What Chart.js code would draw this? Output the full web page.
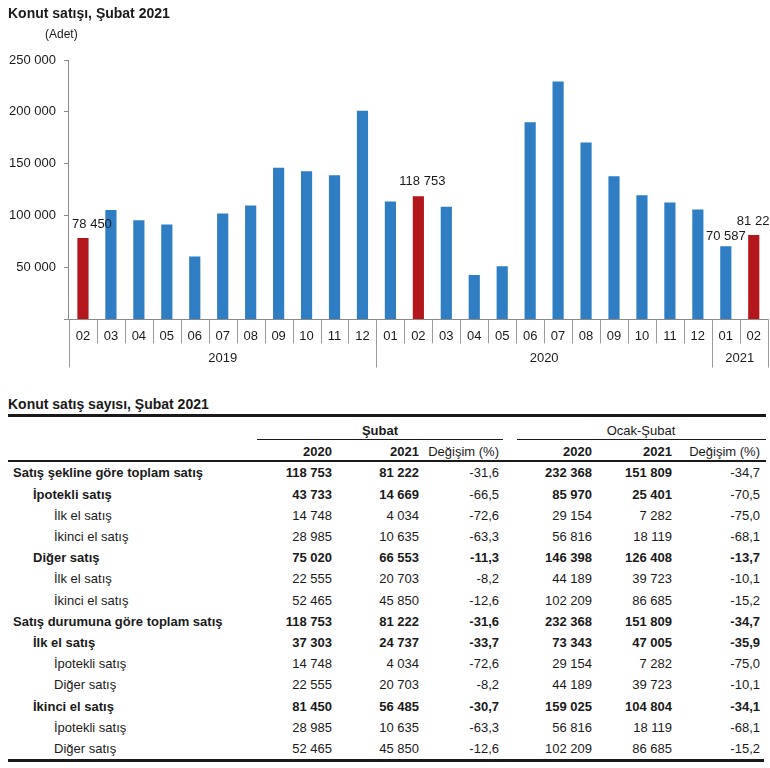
<!DOCTYPE html>
<html>
<head>
<meta charset="utf-8">
<script src="https://cdn.jsdelivr.net/npm/chart.js@4"></script>
<style>
  body { margin: 0; background: #fff; font-family: 'Liberation Sans', Arial, sans-serif; color: #1a1a1a; }
  #page { position: relative; width: 770px; height: 768px; overflow: hidden; }
  #chartBox { position: absolute; left: 0; top: 0; width: 770px; height: 385px; }
  .t { position: absolute; white-space: nowrap; }
  .rule { position: absolute; background: #1a1a1a; }
</style>
</head>
<body>
<div id="page">
  <div id="chartBox"><canvas id="salesChart"></canvas></div>
  <div class="t" style="left:8px; top:5px; font-size:14px; font-weight:bold;">Konut satışı, Şubat 2021</div>
  <div class="t" style="left:45px; top:27px; font-size:12px;">(Adet)</div>
  <div id="table"></div>
</div>
<script>
// chart data
const monthLabels = ['02', '03', '04', '05', '06', '07', '08', '09', '10', '11', '12',
    '01', '02', '03', '04', '05', '06', '07', '08', '09', '10', '11', '12',
    '01', '02'];
const sales = [78450, 105394, 95440, 91343, 60601, 101955, 109722, 146172, 142878, 138825, 201164,
    113615, 118753, 108670, 42783, 51308, 190012, 229357, 170521, 137899, 119594, 112551, 105972,
    70587, 81222];
const years = ['2019', '2020', '2021'];
const yearSpans = [11, 12, 2];
const labelledBars = [0, 12, 23, 24];
const yTicks = [0, 50000, 100000, 150000, 200000, 250000];

// table data
const tableTitle = 'Konut satış sayısı, Şubat 2021';
const groupHeaders = ['Şubat', 'Ocak-Şubat'];
const columnHeaders = ['2020', '2021', 'Değişim (%)', '2020', '2021', 'Değişim (%)'];
const rowLabels = ['Satış şekline göre toplam satış', 'İpotekli satış', 'İlk el satış', 'İkinci el satış',
    'Diğer satış', 'İlk el satış', 'İkinci el satış', 'Satış durumuna göre toplam satış', 'İlk el satış',
    'İpotekli satış', 'Diğer satış', 'İkinci el satış', 'İpotekli satış', 'Diğer satış'];
const rowLevels = [0, 1, 2, 2, 1, 2, 2, 0, 1, 2, 2, 1, 2, 2];
const feb2020 = [118753, 43733, 14748, 28985, 75020, 22555, 52465, 118753, 37303, 14748, 22555, 81450, 28985, 52465];
const feb2021 = [81222, 14669, 4034, 10635, 66553, 20703, 45850, 81222, 24737, 4034, 20703, 56485, 10635, 45850];
const febChange = [-31.6, -66.5, -72.6, -63.3, -11.3, -8.2, -12.6, -31.6, -33.7, -72.6, -8.2, -30.7, -63.3, -12.6];
const janFeb2020 = [232368, 85970, 29154, 56816, 146398, 44189, 102209, 232368, 73343, 29154, 44189, 159025, 56816, 102209];
const janFeb2021 = [151809, 25401, 7282, 18119, 126408, 39723, 86685, 151809, 47005, 7282, 39723, 104804, 18119, 86685];
const janFebChange = [-34.7, -70.5, -75.0, -68.1, -13.7, -10.1, -15.2, -34.7, -35.9, -75.0, -10.1, -34.1, -68.1, -15.2];

const FONT = "'Liberation Sans', Arial, sans-serif";
const BLUE = '#2f7ec3';
const RED = '#b3161b';

function fmtInt(n) {
    return String(n).replace(/\B(?=(\d{3})+(?!\d))/g, ' ');
}
function fmtPct(n) {
    return n.toFixed(1).replace('.', ',');
}

// value labels above selected bars
const valueLabels = {
    id: 'valueLabels',
    afterDatasetsDraw(chart) {
        const ctx = chart.ctx;
        const meta = chart.getDatasetMeta(0);
        const shift = { 0: [9, -14], 12: [4, -15], 23: [0, -10], 24: [3, -14] };
        ctx.save();
        ctx.font = '13px ' + FONT;
        ctx.fillStyle = '#1a1a1a';
        ctx.textAlign = 'center';
        ctx.textBaseline = 'middle';
        labelledBars.forEach(i => {
            const bar = meta.data[i];
            const [dx, dy] = shift[i];
            ctx.fillText(fmtInt(sales[i]), bar.x + dx, bar.y + dy);
        });
        ctx.restore();
    }
};

// month separators and year row under the x axis
const yearAxis = {
    id: 'yearAxis',
    afterDraw(chart) {
        const ctx = chart.ctx;
        const x = chart.scales.x;
        const bottom = chart.chartArea.bottom;
        const half = (x.getPixelForValue(1) - x.getPixelForValue(0)) / 2;
        const vline = (px, len) => {
            ctx.beginPath();
            ctx.moveTo(Math.round(px) + 0.5, bottom);
            ctx.lineTo(Math.round(px) + 0.5, bottom + len);
            ctx.stroke();
        };
        ctx.save();
        ctx.strokeStyle = '#9a9a9a';
        ctx.lineWidth = 1;
        monthLabels.forEach((m, i) => vline(x.getPixelForValue(i) + half, 24));
        ctx.font = '13px ' + FONT;
        ctx.fillStyle = '#1a1a1a';
        ctx.textAlign = 'center';
        ctx.textBaseline = 'middle';
        let start = 0;
        years.forEach((year, g) => {
            const end = start + yearSpans[g] - 1;
            const left = x.getPixelForValue(start) - half;
            const right = x.getPixelForValue(end) + half;
            vline(left, 48);
            vline(right, 48);
            ctx.fillText(year, (left + right) / 2, bottom + 39);
            start = end + 1;
        });
        ctx.restore();
    }
};

new Chart(document.getElementById('salesChart'), {
    type: 'bar',
    data: {
        labels: monthLabels,
        datasets: [{
            data: sales,
            backgroundColor: monthLabels.map((m, i) => labelledBars.includes(i) && m === '02' ? RED : BLUE),
            barPercentage: 0.4,
            categoryPercentage: 1.0
        }]
    },
    options: {
        responsive: true,
        maintainAspectRatio: false,
        animation: false,
        layout: { padding: { top: 60, left: 1, right: 1, bottom: 32 } },
        plugins: {
            legend: { display: false },
            tooltip: { enabled: false }
        },
        scales: {
            y: {
                min: 0,
                max: 250000,
                afterBuildTicks: axis => { axis.ticks = yTicks.map(v => ({ value: v })); },
                ticks: {
                    padding: 8,
                    color: '#1a1a1a',
                    font: { family: FONT, size: 13 },
                    callback: v => v === 0 ? '' : fmtInt(v)
                },
                grid: { drawOnChartArea: false, drawTicks: true, tickLength: 5, color: '#8a8a8a' },
                border: { display: true, color: '#8a8a8a' }
            },
            x: {
                ticks: {
                    padding: 9,
                    color: '#1a1a1a',
                    font: { family: FONT, size: 13 },
                    maxRotation: 0,
                    autoSkip: false
                },
                grid: { offset: true, drawOnChartArea: false, drawTicks: false },
                border: { display: true, color: '#8a8a8a' }
            }
        }
    },
    plugins: [valueLabels, yearAxis]
});

// table
function buildTable() {
    const box = document.getElementById('table');
    const rightEdges = [332, 419, 499, 592, 672, 760];
    const indents = [13, 33, 54];
    const rowTop = 473.3, rowStep = 21.2;
    let html = '';
    const text = (s, x, cy, opts) => {
        const align = opts.align || 'left';
        const w = 300;
        const left = align === 'right' ? x - w : (align === 'center' ? x - w / 2 : x);
        html += `<div class="t" style="left:${left}px;width:${w}px;top:${cy - 10}px;line-height:20px;` +
            `font-size:${opts.size || 13}px;font-weight:${opts.bold ? 'bold' : 'normal'};text-align:${align};">${s}</div>`;
    };
    const rule = (x1, x2, y, h) => {
        html += `<div class="rule" style="left:${x1}px;width:${x2 - x1}px;top:${y}px;height:${h}px;"></div>`;
    };

    text(tableTitle, 8, 404, { size: 14, bold: true });
    rule(8, 766, 414, 3);
    text(groupHeaders[0], 380, 431, { align: 'center', bold: true });
    text(groupHeaders[1], 641, 431, { align: 'center' });
    rule(257, 503, 438.5, 1.5);
    rule(517, 766, 438.5, 1.5);
    columnHeaders.forEach((h, c) => {
        text(h, rightEdges[c], 452, { align: 'right', bold: c % 3 !== 2 });
    });
    rule(8, 766, 460, 2);

    const cols = [feb2020, feb2021, febChange, janFeb2020, janFeb2021, janFebChange];
    rowLabels.forEach((label, r) => {
        const cy = rowTop + r * rowStep;
        const bold = rowLevels[r] < 2;
        text(label, indents[rowLevels[r]], cy, { bold });
        cols.forEach((col, c) => {
            const s = c % 3 === 2 ? fmtPct(col[r]) : fmtInt(col[r]);
            const b = bold && !(c % 3 === 2 && r < 2);
            text(s, rightEdges[c], cy, { align: 'right', bold: b });
        });
    });
    rule(8, 764, 759, 2.5);
    box.innerHTML = html;
}
buildTable();
</script>
</body>
</html>
